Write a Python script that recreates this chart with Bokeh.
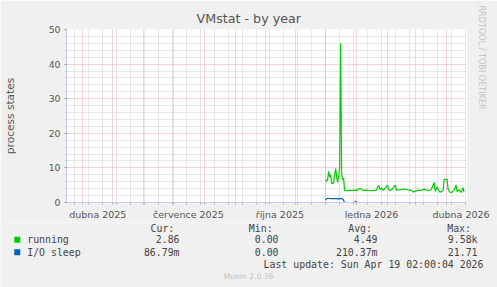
import pandas as pd
from bokeh.plotting import figure
from bokeh.layouts import column, row
from bokeh.models import Range1d, FixedTicker, Title
from bokeh.core.properties import value
from bokeh.embed import file_html
from bokeh.resources import INLINE

# ---------------- data ----------------
dates = ["2025-12-01", "2025-12-02", "2025-12-03", "2025-12-04", "2025-12-05",
         "2025-12-06", "2025-12-07", "2025-12-08", "2025-12-09", "2025-12-10",
         "2025-12-11", "2025-12-12", "2025-12-13", "2025-12-14", "2025-12-15",
         "2025-12-16", "2025-12-17", "2025-12-18", "2025-12-19", "2025-12-20",
         "2025-12-21", "2025-12-24", "2025-12-28", "2025-12-30", "2025-12-31",
         "2026-01-01", "2026-01-05", "2026-01-07", "2026-01-10", "2026-01-13",
         "2026-01-18", "2026-01-21", "2026-01-23", "2026-01-25", "2026-01-26",
         "2026-01-28",
         "2026-02-01", "2026-02-03", "2026-02-05", "2026-02-09", "2026-02-10",
         "2026-02-14", "2026-02-19", "2026-02-22", "2026-02-25", "2026-02-27",
         "2026-03-01", "2026-03-04", "2026-03-07", "2026-03-10", "2026-03-14",
         "2026-03-17", "2026-03-20", "2026-03-21", "2026-03-23", "2026-03-24",
         "2026-03-26", "2026-03-27", "2026-03-29", "2026-03-30",
         "2026-04-02", "2026-04-03", "2026-04-05", "2026-04-07", "2026-04-09",
         "2026-04-11", "2026-04-12", "2026-04-14", "2026-04-16", "2026-04-18",
         "2026-04-19"]

running = [6.6, 6.1, 6.8, 9.0, 7.4, 7.9, 5.6, 5.5, 5.7, 8.0,
           9.8, 7.5, 5.8, 7.6, 10.0, 46.0, 8.5, 6.6, 7.0, 3.5,
           3.4, 3.5, 3.5, 3.5, 3.6,
           3.5, 4.1, 3.5, 3.6, 3.5, 3.4, 3.6, 4.9, 3.7, 4.2, 3.5,
           5.0, 3.4, 3.6, 5.0, 3.6, 3.7, 3.9, 3.6, 3.6, 3.0,
           3.3, 3.5, 3.5, 3.9, 3.4, 3.7, 5.8, 3.2, 4.5, 3.8, 2.9, 3.2, 3.4, 6.6,
           6.8, 3.8, 2.9, 3.0, 3.6, 5.1, 3.2, 3.7, 2.9, 4.3, 2.9]

io_sleep = [0.7, 1.1, 1.2, 1.2, 1.15, 1.1, 1.1, 1.15, 1.1, 1.15,
            1.1, 1.1, 1.05, 1.1, 1.05, 1.1, 1.1, 1.05, 0.6, 0.0,
            0.0, 0.0, 0.0, 0.0, 0.4,
            0.0, 0.0, 0.0, 0.0, 0.0, 0.0, 0.0, 0.0, 0.0, 0.0, 0.0,
            0.0, 0.0, 0.0, 0.0, 0.0, 0.0, 0.0, 0.0, 0.0, 0.0,
            0.0, 0.0, 0.0, 0.0, 0.0, 0.0, 0.0, 0.0, 0.0, 0.0, 0.0, 0.0, 0.0, 0.0,
            0.0, 0.0, 0.0, 0.0, 0.0, 0.0, 0.0, 0.0, 0.0, 0.0, 0.0]

month_starts = ["2025-04-01", "2025-05-01", "2025-06-01", "2025-07-01", "2025-08-01",
                "2025-09-01", "2025-10-01", "2025-11-01", "2025-12-01", "2026-01-01",
                "2026-02-01", "2026-03-01", "2026-04-01"]
label_dates = ["2025-04-16", "2025-07-16", "2025-10-16", "2026-01-16", "2026-04-16"]
label_texts = ["dubna 2025", "července 2025", "října 2025", "ledna 2026", "dubna 2026"]
y_major = [0, 10, 20, 30, 40, 50]
y_minor = [2, 4, 6, 8, 12, 14, 16, 18, 22, 24, 26, 28, 32, 34, 36, 38, 42, 44, 46, 48]

title_text = "VMstat - by year"
ylabel_text = "process states"
watermark_text = "RRDTOOL / TOBI OETIKER"
footer_text = "Munin 2.0.76"
legend_names = ["running", "I/O sleep"]
legend_colors = ["#00cc00", "#0066b3"]
col_headers = ["Cur:", "Min:", "Avg:", "Max:"]
cur_vals = ["2.86", "86.79m"]
min_vals = ["0.00", "0.00"]
avg_vals = ["4.49", "210.37m"]
max_vals = ["9.58k", "21.71"]
last_update = "Last update: Sun Apr 19 02:00:04 2026"

# ---------------- helpers ----------------
def ms(lst):
    t = pd.to_datetime(pd.Series(lst))
    return [float((v - pd.Timestamp("1970-01-01")) / pd.Timedelta(milliseconds=1)) for v in t]

x_ms = ms(dates)
month_ms = ms(month_starts)
label_ms = ms(label_dates)
minor_x = list(pd.date_range("2025-03-24", "2026-04-20", freq="14D").strftime("%Y-%m-%d"))
minor_ms = ms(minor_x)

BG = "#f0f0f0"
W, H = 497, 287
TOPH = 222           # height of the upper (plot) part
L, R, T, B = 66, 468, 29, 203

# ---------------- main plot ----------------
p = figure(width=W, height=TOPH, x_axis_type="datetime", output_backend="svg",
           toolbar_location=None, title=title_text,
           min_border_left=L, min_border_right=W - R, min_border_top=T,
           min_border_bottom=TOPH - B,
           x_range=Range1d(pd.Timestamp("2025-03-15 12:00"), pd.Timestamp("2026-04-21 12:00")),
           y_range=Range1d(0, 50))
p.background_fill_color = "white"
p.border_fill_color = BG
p.outline_line_color = None

p.title.align = "left"
p.title.offset = 196 - L
p.title.standoff = 8
p.title.text_font = "DejaVu Sans"
p.title.text_font_size = "12.7px"
p.title.text_font_style = "normal"
p.title.text_color = "#555555"

wm = Title(text=watermark_text, align="left", offset=5 - T, standoff=19,
           vertical_align="middle", text_font="DejaVu Sans", text_font_size="8.1px",
           text_font_style="normal", text_color="#c4c4c4")
p.add_layout(wm, "right")

p.xgrid.ticker = FixedTicker(ticks=month_ms, minor_ticks=minor_ms)
p.ygrid.ticker = FixedTicker(ticks=y_major, minor_ticks=y_minor)
for g in (p.xgrid, p.ygrid):
    g.grid_line_color = "#eea8a8"
    g.grid_line_dash = "1 1"
    g.grid_line_width = 1
    g.minor_grid_line_color = "#cfcfcf"
    g.minor_grid_line_dash = "1 1"

axis_col = "#c8ccf2"
xa = p.xaxis[0]
xa.ticker = FixedTicker(ticks=label_ms, minor_ticks=month_ms + minor_ms)
xa.major_label_overrides = {v: t for v, t in zip(label_ms, label_texts)}
xa.major_tick_out = 0
xa.major_tick_in = 0
xa.minor_tick_out = 2
xa.minor_tick_in = 0
xa.minor_tick_line_color = "#b0b0b0"
xa.axis_line_color = axis_col
xa.major_label_text_font = "DejaVu Sans"
xa.major_label_text_font_size = "9.5px"
xa.major_label_text_color = "#555555"
xa.major_label_standoff = 4

ya = p.yaxis[0]
ya.ticker = FixedTicker(ticks=y_major, minor_ticks=y_minor)
ya.major_tick_out = 2
ya.major_tick_in = 0
ya.minor_tick_out = 1
ya.minor_tick_in = 0
ya.major_tick_line_color = "#909090"
ya.minor_tick_line_color = "#b0b0b0"
ya.axis_line_color = axis_col
ya.major_label_text_font = "DejaVu Sans"
ya.major_label_text_font_size = "9.3px"
ya.major_label_text_color = "#555555"
ya.major_label_standoff = 4
ya.axis_label = ylabel_text
ya.axis_label_text_font = "DejaVu Sans"
ya.axis_label_text_font_size = "10.6px"
ya.axis_label_text_font_style = "normal"
ya.axis_label_text_color = "#555555"
ya.axis_label_standoff = 30

p.line(x_ms, running, line_color=legend_colors[0], line_width=1.2)
p.line(x_ms, io_sleep, line_color=legend_colors[1], line_width=1.2)

# ---------------- legend area ----------------
LH = H - TOPH
pl = figure(width=W, height=LH, output_backend="svg", toolbar_location=None,
            x_range=Range1d(0, W), y_range=Range1d(0, LH),
            x_axis_location=None, y_axis_location=None,
            min_border=0, min_border_left=0, min_border_right=0,
            min_border_top=0, min_border_bottom=0)
pl.background_fill_color = BG
pl.border_fill_color = BG
pl.outline_line_color = None
pl.grid.visible = False

def cy(y):
    return H - y

mono = value("DejaVu Sans Mono")
fs = "9.9px"
txt = "#444444"
hdr_x = [150, 248.3, 347.7, 446.7]
pl.text(x=hdr_x, y=[cy(228.3)] * 4, text=col_headers, text_font=mono, text_font_size=fs,
        text_color=txt, text_align="left", text_baseline="middle")
rows_y = [239.3, 251.7]
pl.rect(x=[16.8, 16.8], y=[cy(v) for v in rows_y], width=5.5, height=5.5,
        fill_color=legend_colors, line_color=legend_colors, line_width=0.5)
pl.text(x=[26.7, 26.7], y=[cy(v) for v in rows_y], text=legend_names, text_font=mono,
        text_font_size=fs, text_color=txt, text_align="left", text_baseline="middle")
for xr, vals in zip([185, 284, 383, 483], [cur_vals, min_vals, avg_vals, max_vals]):
    pl.text(x=[xr, xr], y=[cy(v) for v in rows_y], text=[s + " " for s in vals],
            text_font=mono, text_font_size=fs, text_color=txt,
            text_align="right", text_baseline="middle")
pl.text(x=[483], y=[cy(263.7)], text=[last_update], text_font=mono, text_font_size=fs,
        text_color=txt, text_align="right", text_baseline="middle")
pl.text(x=[248], y=[cy(276)], text=[footer_text], text_font=value("DejaVu Sans"),
        text_font_size="7.6px", text_color="#c0c0c0", text_align="center",
        text_baseline="middle")

layout = column(row(p, spacing=0), pl, spacing=0)
open("out.html", "w").write(file_html(layout, INLINE))
